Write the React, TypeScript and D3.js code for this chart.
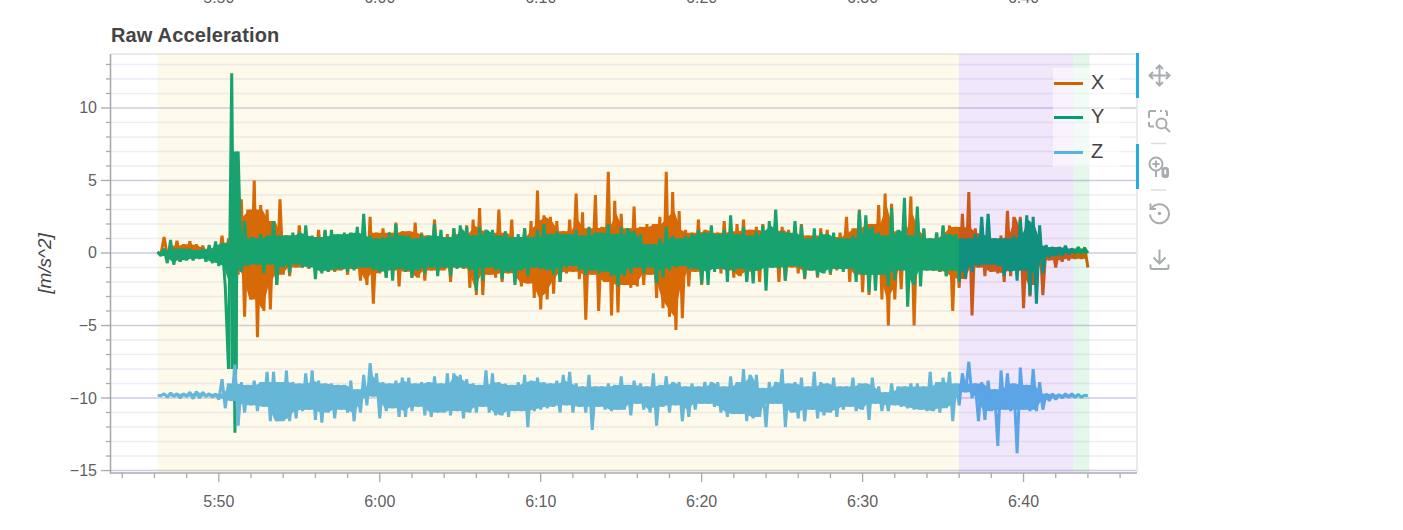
import * as d3 from "d3";

const width = 1403;
const height = 530;
const margin = { top: 54, right: 266, bottom: 58, left: 111 };

const title = "Raw Acceleration";
const yLabel = "[m/s^2]";
const xMajorTicks = [350, 360, 370, 380, 390, 400];
const xMinorTicks = [344, 346, 348, 352, 354, 356, 358, 362, 364, 366, 368, 372, 374, 376, 378, 382, 384, 386, 388, 392, 394, 396, 398, 402, 404, 406];
const yMajorTicks = [-15, -10, -5, 0, 5, 10];
const yMinorTicks = [-14, -13, -12, -11, -9, -8, -7, -6, -4, -3, -2, -1, 1, 2, 3, 4, 6, 7, 8, 9, 11, 12, 13];

// seconds between two samples, first sample at 346.2 s
const startTime = 346.2;
const sampleStep = 0.2;

// flight mode bands, seconds
const bandEdges = [346.2, 396, 403.1, 404.1];
const bandColors = ["rgba(240,205,60,0.1)", "rgba(130,55,210,0.12)", "rgba(0,180,45,0.1)"];

const seriesX = [
  0, -0.1, 1.1, -0.2, 0.5, -0.3, 0.85, -0.6, 0.6, -0.4, 0.8, -0.4, 0.6, -0.3, 0.5, -0.3, 0.3, -0.4, 0.3, -0.5,
  1.2, -0.6, 1, -1, 2.5, -1.5, 3.7, -4.4, 3, -3.2, 5, -5.8, 3.3, -4, 3, -3.9, 2.2, -2.2, 3.7, -1.5,
  1.2, -1.6, 1.2, -1, 1.9, -1, 1.6, -1.1, 1, -0.9, 1.6, -1.2, 1.5, -1.3, 1.2, -1.3, 0.9, -1.2, 1.1, -1.5,
  1.3, -1.1, 0.9, -1.9, 1.6, -2.2, 2.5, -3.5, 1.4, -1.4, 1.7, -1.7, 1.4, -1.2,
  2.1, -2.3, 1.5, -1.3, 1.5, -1.7, 2.1, -1.7, 1.4, -1.9, 1.2, -1.2, 2.3, -1.3, 1, -1.2, 1.3, -2, 1.7, -1,
  1.3, -1.1, 1.9, -2.4, 2.3, -2.9, 3.1, -2.9, 1.6, -1.5, 1.4, -1.7, 3, -2, 1.4, -1.4, 2.3, -2, 1.1, -2.3,
  1.7, -2.1, 2.2, -3.1, 4.3, -3.9, 2.6, -3.2, 2.5, -2.8, 2.2, -2, 1.5, -1.4, 2.3, -1.3, 4.1, -1.8, 2.8, -4.6,
  1.7, -1.5, 4, -4, 1.8, -2, 5.6, -4.3, 3.6, -4.1, 2.7, -2.2, 1.7, -2.4,
  3.2, -2.3, 1.8, -2.2, 2, -1.5, 2, -3.1, 2.5, -3.8, 5.6, -4.4, 4.2, -5.3, 2.9, -4.5, 1.6, -2.3, 1.4, -1.3,
  2.3, -2.2, 1.6, -1.3, 1.7, -1, 1.4, -1.4, 2.2, -1.2, 1.5, -1.7, 2, -1.6, 2.3, -2, 1.6, -1.3, 1.8, -2,
  2, -1.2, 1.5, -1, 2.2, -2, 1.8, -1.9, 1.6, -1, 1.3, -1.4, 2, -1.8, 1.2, -1.2, 1.2, -1.7, 1.7, -1.1,
  1.6, -1.5, 1.1, -1.2, 1.4, -0.9, 2.5, -2, 1.7, -1.5, 3, -2.7, 2.2, -2.9,
  2, -1.5, 3.3, -3.2, 4.1, -5, 3.4, -3.2, 1.5, -2.5, 2.7, -0.8, 3.9, -5, 2.7, -1, 1.6, -1.2, 1, -1.2,
  1.4, -1.3, 1.8, -1.6, 1.9, -4, 1.8, -2.4, 2.7, -1.8, 4.2, -4.3, 1.7, -1, 1.4, -1.6, 1.2, -1.3, 1, -1.4,
  1.2, -2, 2.9, -1.6, 2.5, -1.2, 2.5, -3.8, 1.4, -3, 1.3, -2.2, 1.4, -2.9, 0.5, -0.5, 0.4, -1, 0.4, -0.6,
  0.4, -0.5, 0.3, -0.4, 0.3, -0.4, 0.4, -1,
];

const seriesY = [
  0.1, -0.2, 0.3, -0.7, 0.9, -0.8, 0.3, -0.6, 0.3, -0.5, 0.3, -0.5, 0.2, -0.4, 0.3, -0.6, 0.55, -0.7, 0.8, -0.9,
  0.7, -2.3, -8, 12.4, -12.4, 7, -1.3, 2.2, -0.9, 1, 1, -0.8, 1.3, -1.4, 1.2, -0.8, 2.2, -2.2, 1.2, -1,
  1.2, -1.4, 1.4, -0.8, 1.4, -1, 1.9, -1, 1.2, -1.8, 1.1, -1.4, 1.6, -1.3, 1.6, -1.2, 1.3, -1.1, 1.4, -1.3,
  1.4, -1.2, 1.8, -1, 2.7, -1, 1.2, -1.2, 1, -1.3, 1.1, -1.7, 1.4, -1.9,
  2, -1.1, 1.2, -1.3, 1.2, -1.7, 1, -1.2, 1.3, -1.4, 1.2, -1, 2, -1.6, 1.6, -1, 1.1, -1.6, 1.7, -1.1,
  1.9, -1, 1.8, -1.2, 1.2, -2.6, 1.8, -1.9, 1.6, -1, 1.6, -1.2, 1.2, -1.8, 1.5, -1.3, 1.1, -2.2, 1.3, -1.2,
  1.7, -1.6, 1.1, -1, 1.6, -1.1, 2, -1.2, 1.3, -1.5, 1.5, -2, 1.3, -1, 1.3, -0.9, 1.6, -1.2, 1.2, -1.5,
  1.8, -1.2, 1.4, -1.4, 1.4, -1.3, 2, -1.6, 1.3, -2.3, 1.8, -1.6, 1.7, -1.4,
  1.5, -1, 1.3, -1.4, 0.6, -1, 0.6, -2.1, 1, -1.7, 1.8, -1.2, 1.2, -1, 1, -0.9, 1.2, -1.1, 1.3, -1.1,
  1.6, -2.1, 1.4, -2.2, 1.9, -1.3, 1.3, -1.1, 1.6, -2, 2.6, -1.3, 1.3, -1.1, 1.8, -2, 1.2, -2.1, 1.5, -1.2,
  1.9, -2.6, 2.2, -1, 3, -1.1, 1.5, -1.9, 1.4, -0.9, 2.2, -1, 1.9, -1.7, 1, -1.2, 1.7, -1.6, 1.4, -1.4,
  1.3, -1.4, 1.4, -1.1, 1, -1.3, 1, -1.1, 1.2, -2, 2.9, -1.5, 2.6, -2.7,
  1.8, -2.6, 1.4, -1.5, 1.2, -2.3, 3.1, -1.9, 1.6, -1.2, 3.8, -3.7, 1.2, -2.2, 3.2, -2.3, 1.7, -1.2, 1, -1.2,
  1.4, -1.3, 1.9, -1.6, 1.3, -1.2, 1.3, -2, 1, -1.7, 1, -1.3, 1.3, -0.9, 2.5, -0.8, 2.7, -0.8, 1, -0.9,
  1, -1.6, 1, -1.3, 1.2, -1.9, 2.3, -1.2, 2.6, -2.9, 2.5, -3.5, 1.9, -1.4, 0.55, -0.3, 0.4, -0.2, 0.4, -0.2,
  0.5, -0.1, 0.3, 0, 0.4, 0, 0.3, 0,
];

const seriesZ = [
  -9.8, -9.85, -9.7, -9.95, -9.65, -9.9, -9.7, -10, -9.7, -9.9, -9.6, -10.05, -9.55, -10, -9.6, -9.9, -9.7, -9.95, -9.7, -10.1,
  -8.7, -10.7, -9, -10.2, -7.7, -11.9, -8.9, -11, -9.1, -10.5, -8.8, -10.9, -8.9, -10.6, -8.2, -11.6, -8.2, -11.6, -8.9, -11.6,
  -8.1, -11.6, -8.9, -11.4, -9, -10.9, -8.3, -10.8, -8.1, -11.5, -8.8, -11.7, -9, -11, -9, -11.4, -9.1, -10.8, -9.1, -11,
  -8.8, -11.6, -9.4, -11, -8.4, -10.5, -7.6, -9.9, -8.3, -11.4, -8.9, -10.9, -9, -10.7, -8.8, -11.3, -8.6, -11.3, -8.6, -10.9,
  -9, -10.6, -8.9, -11.2, -8.9, -11.3, -8.5, -11, -9, -11, -8.3, -11.2, -8.3, -10.9, -8.4, -11.4, -8.7, -11, -9, -11,
  -9.1, -10.6, -8.1, -11, -8.3, -11.2, -8.9, -11.2, -9, -11.3, -9.1, -10.9, -8.9, -10.9, -8.4, -12, -8.8, -10.9, -8.6, -10.8,
  -8.9, -10.7, -9, -10.6, -8.8, -11, -8.4, -10.5, -8.2, -11, -9, -10.6, -9.2, -11, -8.4, -12.2, -9.2, -10.6, -9.2, -10.8,
  -9, -10.9, -9.1, -10.8, -8.5, -10.8, -9.1, -11.2, -8.8, -10.4, -9, -10.8, -9.2, -11, -8.3, -11.9, -9.1, -10.6, -8.5, -11,
  -8.9, -10.5, -8.9, -11.6, -9.2, -11.3, -9, -10.8, -9.2, -10.4, -8.9, -10.4, -8.9, -10.6, -8.9, -11, -9.2, -11.3, -8.5, -11.1,
  -8.9, -11.1, -8, -11.6, -8.4, -11.4, -8.4, -11.3, -9.3, -12, -8.9, -10.4, -8.9, -10.4, -8, -12, -9, -11, -8.9, -11.4,
  -8.6, -11.6, -9.2, -10.8, -8.2, -11.4, -8.9, -11.2, -9, -11, -8.6, -11.3, -9.2, -10.8, -9.2, -10.6, -8.6, -10.9, -9, -10.8,
  -9, -11.5, -8.6, -10.4, -9.2, -10.9, -9.6, -10.9, -9, -10.5, -9.2, -10.6, -9.2, -10.7, -9, -10.8, -9, -10.8, -9.2, -10.9,
  -8.2, -10.9, -8.9, -11, -8.6, -10.7, -8.2, -11.6, -9, -10.5, -8.3, -9.6, -7.5, -10, -9, -11.6, -8.9, -11.5, -8.8, -10.9,
  -9.4, -13.3, -8.1, -10.8, -8.3, -10.9, -9, -13.8, -7.9, -10.8, -9.1, -10.9, -8, -10.9, -8.9, -10.8, -9.7, -10.2, -9.7, -10.1,
  -9.75, -10, -9.7, -9.95, -9.7, -9.95, -9.75, -9.95, -9.8, -9.85,
];

// the shock at 5:51, where Y stays wide for half a second
const shockTimes = [350.72, 351.18];
const shockHigh = [7, 7];
const shockLow = [-8, -8];

const legendNames = ["X", "Y", "Z"];
const seriesColors = ["#d55e00", "#009e73", "#56b4e9"];
const allSeries = [seriesX, seriesY, seriesZ];

const xScale = d3.scaleLinear([343.3, 407.05], [margin.left, width - margin.right]);
const yScale = d3.scaleLinear([-15.1, 13.72], [height - margin.bottom, margin.top]);

const clock = (s: number) => `${Math.floor(s / 60)}:${d3.format("02d")(s % 60)}`;
const minus = (v: number) => String(v).replace("-", "\u2212");

const line = d3
  .line<number>()
  .x((_, i) => xScale(startTime + i * sampleStep))
  .y((d) => yScale(d));

// the raw log is far denser than what is kept here, so the body of each trace
// is filled: the range that a high/low pair shares with both its neighbours
function bodyPath(s: number[]) {
  const count = Math.floor(s.length / 2);
  const pairs = d3.range(count).map((i) => [s[2 * i], s[2 * i + 1]]);
  const ups = pairs.map((p) => d3.max(p) as number);
  const downs = pairs.map((p) => d3.min(p) as number);
  const area = d3
    .area<number>()
    .x((i) => xScale(startTime + (2 * i + 0.5) * sampleStep))
    .y0((i) => yScale(d3.max(downs.slice(Math.max(0, i - 1), i + 2)) as number))
    .y1((i) => yScale(d3.min(ups.slice(Math.max(0, i - 1), i + 2)) as number));
  return area(d3.range(count)) as string;
}

const shockArea = d3
  .area<number>()
  .x((t) => xScale(t))
  .y0((_, i) => yScale(shockLow[i]))
  .y1((_, i) => yScale(shockHigh[i]));

const font = "'Liberation Sans', Arial, sans-serif";
const axisGrey = "#aaaaaa";
const iconGrey = "#a9acae";

function Toolbar() {
  const icon = { fill: "none", stroke: iconGrey, strokeWidth: 2 };
  return (
    <g>
      <rect x={1136} y={53} width={3} height={45} fill="#26aae1" />
      <rect x={1136} y={144} width={3} height={45} fill="#26aae1" />
      <line x1={1151} x2={1166} y1={143.5} y2={143.5} stroke="#ddd" strokeWidth={1.5} />
      <line x1={1151} x2={1166} y1={190} y2={190} stroke="#ddd" strokeWidth={1.5} />
      {/* pan */}
      <g transform="translate(1159.5,75.5)" {...icon}>
        <path d="M-9 0H9M0 -9V9" />
        <path d="M-3.5 -6.5L0 -10L3.5 -6.5M-3.5 6.5L0 10L3.5 6.5M-6.5 -3.5L-10 0L-6.5 3.5M6.5 -3.5L10 0L6.5 3.5" />
      </g>
      {/* box zoom */}
      <g transform="translate(1159,121)" {...icon}>
        <path d="M-3 -10H-8.5a1.5 1.5 0 0 0 -1.5 1.5V-3M-10 1V4a1.5 1.5 0 0 0 1.5 1.5H-5M1 -10H3M6 -10a2 2 0 0 1 2 2V-5" />
        <circle cx={2.5} cy={2.5} r={5} />
        <path d="M6.5 6.5L11 11" />
      </g>
      {/* wheel zoom */}
      <g transform="translate(1158,166)" {...icon}>
        <circle cx={-2} cy={-2} r={6.5} />
        <path d="M-5.5 -2H1.5M-2 -5.5V1.5M-2 5V11" />
        <rect x={3.5} y={1} width={7.5} height={11} rx={3} fill={iconGrey} stroke="none" />
        <rect x={6.2} y={3.5} width={2} height={5} rx={1} fill="#fff" stroke="none" />
      </g>
      {/* reset */}
      <g transform="translate(1159.5,213.5)" {...icon}>
        <path d="M-8 -5A9.5 9.5 0 1 1 -9.5 1" />
        <path d="M-9 -10V-4.5H-3.5" />
        <circle cx={0} cy={0} r={1.8} fill={iconGrey} stroke="none" />
      </g>
      {/* save */}
      <g transform="translate(1159.5,259.5)" {...icon}>
        <path d="M0 -10V4M-6 -2L0 4L6 -2" />
        <path d="M-9 5V8a1.5 1.5 0 0 0 1.5 1.5H7.5A1.5 1.5 0 0 0 9 8V5" />
      </g>
    </g>
  );
}

export default function App() {
  const plotLeft = margin.left;
  const plotRight = width - margin.right;
  const plotTop = margin.top;
  const plotBottom = height - margin.bottom;

  return (
    <svg
      width={width}
      height={height}
      style={{ position: "absolute", left: 0, top: 0, display: "block", fontFamily: font }}
    >
      <rect width={width} height={height} fill="#fff" />

      {/* bottom of the tick labels of the plot above */}
      {xMajorTicks.map((t) => (
        <text key={"above-" + t} x={xScale(t)} y={3} textAnchor="middle" fontSize={16} fill="#5f5f5f">
          {clock(t)}
        </text>
      ))}

      <text x={111} y={41.5} fontSize={20} fontWeight="bold" fill="#444" letterSpacing={0.15}>
        {title}
      </text>

      {/* grid */}
      {yMinorTicks.map((v) => (
        <line key={"gm" + v} x1={plotLeft} x2={plotRight} y1={yScale(v)} y2={yScale(v)} stroke="#efedf6" strokeWidth={1.4} />
      ))}
      {yMajorTicks.map((v) => (
        <line key={"g" + v} x1={plotLeft} x2={plotRight} y1={yScale(v)} y2={yScale(v)} stroke="#cfcbe4" strokeWidth={1.4} />
      ))}
      <path
        d={`M${plotLeft} ${plotTop}H${plotRight}V${plotBottom}`}
        fill="none"
        stroke="#e5e5e5"
        strokeWidth={1.5}
      />

      {/* series */}
      {allSeries.map((s, i) => (
        <g key={legendNames[i]}>
          <path d={bodyPath(s)} fill={seriesColors[i]} />
          {legendNames[i] === "Y" && <path d={shockArea(shockTimes) as string} fill={seriesColors[i]} />}
          <path
            d={line(s) as string}
            fill="none"
            stroke={seriesColors[i]}
            strokeWidth={3}
            strokeLinejoin="bevel"
          />
        </g>
      ))}

      {/* flight mode bands sit on top of the lines */}
      {bandColors.map((c, i) => (
        <rect
          key={c}
          x={xScale(bandEdges[i])}
          width={xScale(bandEdges[i + 1]) - xScale(bandEdges[i])}
          y={plotTop}
          height={plotBottom - plotTop}
          fill={c}
        />
      ))}

      {/* y axis */}
      <line x1={plotLeft - 0.5} x2={plotLeft - 0.5} y1={plotTop} y2={plotBottom + 1.5} stroke={axisGrey} strokeWidth={1.6} />
      {yMinorTicks.map((v) => (
        <line key={"ym" + v} x1={plotLeft - 5} x2={plotLeft} y1={yScale(v)} y2={yScale(v)} stroke={axisGrey} strokeWidth={1.3} />
      ))}
      {yMajorTicks.map((v) => (
        <g key={"y" + v}>
          <line x1={plotLeft - 10} x2={plotLeft} y1={yScale(v)} y2={yScale(v)} stroke={axisGrey} strokeWidth={1.3} />
          <text x={plotLeft - 14} y={yScale(v) + 5.5} textAnchor="end" fontSize={16} fill="#5f5f5f">
            {minus(v)}
          </text>
        </g>
      ))}
      <text
        transform={`translate(51,${(232 + 295) / 2}) rotate(-90)`}
        textAnchor="middle"
        fontSize={19}
        fontStyle="italic"
        fill="#444"
      >
        {yLabel}
      </text>

      {/* x axis */}
      <line x1={plotLeft - 1} x2={plotRight} y1={plotBottom + 1} y2={plotBottom + 1} stroke={axisGrey} strokeWidth={1.6} />
      {xMinorTicks.map((t) => (
        <line key={"xm" + t} x1={xScale(t)} x2={xScale(t)} y1={plotBottom + 1} y2={plotBottom + 6} stroke={axisGrey} strokeWidth={1.3} />
      ))}
      {xMajorTicks.map((t) => (
        <g key={"x" + t}>
          <line x1={xScale(t)} x2={xScale(t)} y1={plotBottom + 1} y2={plotBottom + 10} stroke={axisGrey} strokeWidth={1.3} />
          <text x={xScale(t)} y={507} textAnchor="middle" fontSize={16} fill="#5f5f5f">
            {clock(t)}
          </text>
        </g>
      ))}

      {/* legend */}
      <rect x={1053} y={68} width={67} height={99} fill="#fff" fillOpacity={0.5} />
      {legendNames.map((n, i) => {
        const ly = [83.5, 117.5, 152.5][i];
        return (
          <g key={"leg" + n}>
            <line x1={1054} x2={1083} y1={ly} y2={ly} stroke={seriesColors[i]} strokeWidth={3} />
            <text x={1091} y={ly + 5.5} fontSize={20} fill="#444">
              {n}
            </text>
          </g>
        );
      })}

      <Toolbar />
    </svg>
  );
}
